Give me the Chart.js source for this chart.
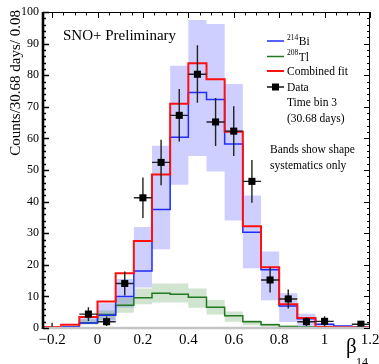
<!DOCTYPE html>
<html><head><meta charset="utf-8">
<script src="https://cdn.jsdelivr.net/npm/chart.js@4.4.0/dist/chart.umd.min.js"></script>
<style>html,body{margin:0;padding:0;background:#fff;}#wrap{width:379px;height:364px;position:relative;}</style>
</head><body><div id="wrap"><canvas id="c" width="379" height="364"></canvas></div>
<script>
// ---- data ----
const binEdges = [-0.24,-0.16,-0.08,0,0.08,0.16,0.24,0.32,0.40,0.48,0.56,0.64,0.72,0.80,0.88,0.96,1.04,1.12,1.20];
const bi214    = [0,0.4,1.6,4,10,18,37.5,60.4,74.5,72.3,58.2,30.3,18.4,7,2.9,1.2,0.6,0.4];
const tl208    = [0,0.4,1.7,4.3,7.2,9.6,11,10.7,9.7,6.6,3.9,2,1,0.5,0.3,0.1,0.1,0];
const combined = [0.3,1.0,3.5,8.4,17.3,27.5,48.6,71,83.8,78.7,62.1,32.2,19.2,7.5,3.2,0.3,0.2,0.2];
const biBandLo = [0,0.2,1.3,2,6.5,12.8,24.9,45.3,54.4,49.5,34,18.9,8.8,1.9,0.5,0.4,0.1,0.1];
const biBandHi = [0,0.6,3.4,7.8,15.5,32,57.7,83,97.5,96.2,77.2,41.9,24.2,11,4.5,1.5,0.7,0.5];
const tlBandLo = [0,0.2,1,2.5,4.8,7.5,8.1,8.1,6.4,4.3,2,0.9,0.5,0.2,0.1,0,0,0];
const tlBandHi = [0,0.6,2.8,5.5,9.5,12.5,14.1,14.1,12.5,8.9,5.2,2.5,1.5,0.8,0.5,0.2,0.2,0.2];
const dataX    = [-0.2,-0.04,0.04,0.12,0.2,0.28,0.36,0.44,0.52,0.6,0.68,0.76,0.84,0.92,1.0,1.16];
const dataY    = [0,4.4,2.0,14.1,41.2,52.4,67.3,80.3,65.2,62.3,46.4,15.2,9.2,2.0,2.1,1.2];
const dataErrLo= [0,2.2,1.4,3.8,6.4,7.2,8.3,9,7.6,7.9,6.8,4,3,1.4,1.6,1];
const dataErrHi= [1.7,2.2,1.6,3.8,6.4,7.2,8.3,9.2,7.6,7.9,6.8,4,3,1.4,1.6,1];
const xTicks = [-0.2,0,0.2,0.4,0.6,0.8,1,1.2];
const xTickLabels = ['\u22120.2','0','0.2','0.4','0.6','0.8','1','1.2'];
const yTicks = [0,10,20,30,40,50,60,70,80,90,100];

const SERIF = '"Liberation Serif", "DejaVu Serif", serif';
const BLUE = '#1f2dff', GREEN = '#217a21', RED = '#ff1010';

function steps(vals){
  const pts = vals.map((v,i)=>({x:binEdges[i], y:v}));
  pts.push({x:binEdges[binEdges.length-1], y:vals[vals.length-1]});
  return pts;
}
const halfBin = (binEdges[1]-binEdges[0])/2;

const base = {stepped:true, pointRadius:0, pointHoverRadius:0, tension:0};
const datasets = [
  Object.assign({label:'biLo', data:steps(biBandLo), borderWidth:0, borderColor:'rgba(0,0,0,0)', fill:false, order:10}, base),
  Object.assign({label:'biHi', data:steps(biBandHi), borderWidth:0, borderColor:'rgba(0,0,0,0)', fill:'-1', backgroundColor:'rgba(110,110,255,0.34)', order:10}, base),
  Object.assign({label:'tlLo', data:steps(tlBandLo), borderWidth:0, borderColor:'rgba(0,0,0,0)', fill:false, order:9}, base),
  Object.assign({label:'tlHi', data:steps(tlBandHi), borderWidth:0, borderColor:'rgba(0,0,0,0)', fill:'-1', backgroundColor:'rgba(40,130,40,0.22)', order:9}, base),
  Object.assign({label:'208Tl', data:steps(tl208), borderColor:GREEN, borderWidth:1.5, fill:false, order:4}, base),
  Object.assign({label:'214Bi', data:steps(bi214), borderColor:BLUE, borderWidth:1.5, fill:false, order:3}, base),
  Object.assign({label:'Combined fit', data:steps(combined), borderColor:RED, borderWidth:2, fill:false, order:2}, base),
  {label:'Data', type:'scatter', data:dataX.map((x,i)=>({x:x, y:dataY[i]})), showLine:false,
   pointStyle:'rect', pointRadius:dataY.map(v=>v>0?5:0), pointHoverRadius:0,
   backgroundColor:'#000', borderColor:'#000', borderWidth:0, order:0}
];
const DATA_IDX = datasets.length-1;

const errPlugin = {
  id:'err',
  beforeDatasetDraw(chart, args){
    if(args.index !== DATA_IDX) return;
    const {ctx, scales:{x, y}} = chart;
    ctx.save();
    ctx.strokeStyle = '#222'; ctx.lineWidth = 1.4;
    dataX.forEach((dx,i)=>{
      const px = x.getPixelForValue(dx), py = y.getPixelForValue(dataY[i]);
      ctx.beginPath();
      ctx.moveTo(x.getPixelForValue(dx-halfBin), py); ctx.lineTo(x.getPixelForValue(dx+halfBin), py);
      ctx.moveTo(px, y.getPixelForValue(dataY[i]-dataErrLo[i])); ctx.lineTo(px, y.getPixelForValue(dataY[i]+dataErrHi[i]));
      ctx.stroke();
    });
    ctx.restore();
  }
};

const framePlugin = {
  id:'frame',
  afterDatasetsDraw(chart){
    const {ctx, chartArea:a, scales:{x, y}} = chart;
    ctx.save();
    // bottom gray
    ctx.strokeStyle = '#c4c4c4'; ctx.lineWidth = 2.5;
    ctx.beginPath(); ctx.moveTo(a.left, a.bottom); ctx.lineTo(a.right, a.bottom); ctx.stroke();
    ctx.strokeStyle = '#000'; ctx.lineWidth = 1;
    ctx.beginPath();
    ctx.moveTo(a.left, a.top+0.5); ctx.lineTo(a.right, a.top+0.5);
    ctx.moveTo(a.right-0.5, a.top); ctx.lineTo(a.right-0.5, a.bottom);
    ctx.stroke();
    // top ticks
    ctx.beginPath();
    for(let k=-4;k<=24;k++){
      const v = k*0.05; const px = Math.round(x.getPixelForValue(v))+0.5;
      const len = (k%4===0)?6:3.5;
      ctx.moveTo(px, a.top); ctx.lineTo(px, a.top+len);
    }
    // right ticks
    for(let v=0; v<=100; v+=2){
      const py = Math.round(y.getPixelForValue(v))+0.5;
      const len = (v%10===0)?6:3;
      ctx.moveTo(a.right, py); ctx.lineTo(a.right-len, py);
    }
    ctx.stroke();
    // left thick axis
    ctx.lineWidth = 1.3;
    ctx.beginPath();
    for(let v=0; v<=100; v+=2){
      const py = Math.round(y.getPixelForValue(v))+0.5;
      const len = (v%10===0)?6:3;
      ctx.moveTo(a.left, py); ctx.lineTo(a.left+len, py);
    }
    ctx.stroke();
    ctx.lineWidth = 2.6;
    ctx.beginPath(); ctx.moveTo(a.left, a.top); ctx.lineTo(a.left, a.bottom+1); ctx.stroke();
    ctx.restore();
  },
  afterDraw(chart){
    const {ctx} = chart;
    ctx.save();
    ctx.fillStyle = '#000';
    // y title
    ctx.save();
    ctx.translate(16, 10); ctx.rotate(-Math.PI/2);
    ctx.font = '15px '+SERIF; ctx.textAlign='right'; ctx.textBaseline='middle';
    ctx.fillText('Counts/30.68 days/ 0.08', 0, 0);
    ctx.restore();
    // SNO+ Preliminary
    ctx.font = '15px '+SERIF; ctx.textAlign='left'; ctx.textBaseline='alphabetic';
    ctx.fillText('SNO+ Preliminary', 63, 40);
    // x title
    ctx.font = '21px '+SERIF;
    ctx.fillText('\u03b2', 346, 353);
    ctx.font = '12px '+SERIF;
    ctx.fillText('14', 356, 366);
    // legend
    const lx0 = 267, lx1 = 284, tx = 287;
    const rows = [
      {y:41, color:BLUE, w:1.5, sup:'214', txt:'Bi'},
      {y:56.5, color:GREEN, w:1.5, sup:'208', txt:'Tl'},
      {y:71, color:RED, w:2, txt:'Combined fit'},
      {y:87, color:'#000', w:1.4, txt:'Data', marker:true}
    ];
    rows.forEach(r=>{
      ctx.strokeStyle = r.color; ctx.lineWidth = r.w;
      ctx.beginPath(); ctx.moveTo(lx0, r.y); ctx.lineTo(lx1, r.y); ctx.stroke();
      if(r.marker){ ctx.fillStyle='#000'; ctx.fillRect(lx0+5, r.y-3.5, 7, 7); }
      ctx.fillStyle = '#000'; ctx.textBaseline='middle';
      let xx = tx;
      if(r.sup){
        ctx.font = '7.5px '+SERIF; ctx.fillText(r.sup, xx, r.y-3); xx += ctx.measureText(r.sup).width+0.5;
      }
      ctx.font = '11.5px '+SERIF; ctx.fillText(r.txt, xx, r.y+1);
    });
    ctx.font = '11.5px '+SERIF; ctx.textBaseline='middle';
    ctx.fillText('Time bin 3', tx, 102.5);
    ctx.fillText('(30.68 days)', tx, 118.5);
    ctx.fillText('Bands show shape', 270, 150);
    ctx.fillText('systematics only', 270, 166);
    ctx.restore();
  }
};

new Chart(document.getElementById('c'), {
  type:'line',
  data:{datasets},
  options:{
    responsive:false, animation:false, devicePixelRatio:1,
    layout:{padding:{left:0, right:9, top:12, bottom:0}},
    plugins:{legend:{display:false}, tooltip:{enabled:false}},
    elements:{line:{borderCapStyle:'butt', borderJoinStyle:'miter'}},
    scales:{
      x:{type:'linear', min:binEdges[0], max:binEdges[binEdges.length-1],
         grid:{display:false, drawTicks:false}, border:{display:false},
         afterBuildTicks(s){ s.ticks = xTicks.map(v=>({value:v})); },
         afterFit(s){ s.height = 36; s.paddingLeft = 0; s.paddingRight = 0; },
         ticks:{autoSkip:false, maxRotation:0, padding:3, color:'#000', font:{family:SERIF, size:15},
                callback:(v)=>{ const i = xTicks.findIndex(t=>Math.abs(t-v)<1e-9); return i>=0?xTickLabels[i]:''; }}},
      y:{type:'linear', min:0, max:100,
         grid:{display:false, drawTicks:false}, border:{display:false},
         afterBuildTicks(s){ s.ticks = yTicks.map(v=>({value:v})); },
         afterFit(s){ s.width = 43; s.paddingTop = 0; s.paddingBottom = 0; },
         ticks:{autoSkip:false, padding:4, color:'#000', font:{family:SERIF, size:12}}}
    }
  },
  plugins:[errPlugin, framePlugin]
});
</script></body></html>
